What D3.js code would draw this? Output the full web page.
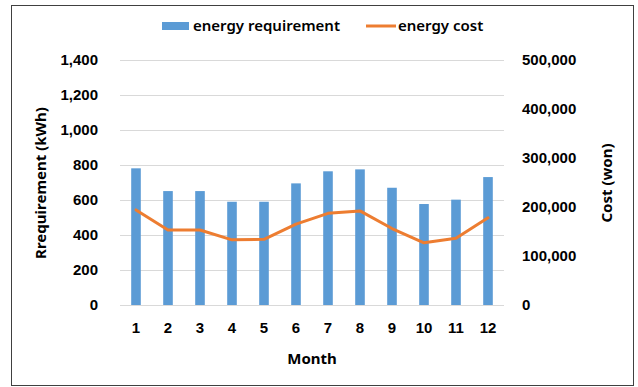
<!DOCTYPE html>
<html>
<head>
<meta charset="utf-8">
<script src="https://cdn.jsdelivr.net/npm/d3@7"></script>
<style>
  html, body { margin: 0; padding: 0; background: #fff; }
  svg { display: block; font-family: "Noto Sans", "Open Sans", sans-serif; }
</style>
</head>
<body>
<svg id="chart" width="638" height="387"></svg>
<script>
// Monthly energy requirement (kWh) and energy cost (won)
const months = ["1", "2", "3", "4", "5", "6", "7", "8", "9", "10", "11", "12"];
const requirement = [781, 651, 651, 590, 590, 695, 764, 775, 670, 577, 602, 731];
const cost = [194000, 153000, 153000, 133000, 134000, 165000, 187000, 192000, 156000, 127000, 136000, 178000];
const leftTicks = [0, 200, 400, 600, 800, 1000, 1200, 1400];
const rightTicks = [0, 100000, 200000, 300000, 400000, 500000];

const svg = d3.select("#chart");
const plot = { left: 120, right: 504, top: 60, bottom: 305 };
const FS = 15;

// outer frame
svg.append("rect")
  .attr("x", 11.5).attr("y", 5.5)
  .attr("width", 622).attr("height", 380)
  .attr("fill", "#fff").attr("stroke", "#404040").attr("stroke-width", 1);

const x = d3.scaleBand().domain(months).range([plot.left, plot.right]).paddingInner(0).paddingOuter(0);
const yL = d3.scaleLinear().domain([0, 1400]).range([plot.bottom, plot.top]);
const yR = d3.scaleLinear().domain([0, 500000]).range([plot.bottom, plot.top]);

const fmt = d3.format(",");

// gridlines
svg.append("g")
  .selectAll("line").data(leftTicks).join("line")
  .attr("x1", plot.left).attr("x2", plot.right)
  .attr("y1", d => Math.round(yL(d)) + 0.5).attr("y2", d => Math.round(yL(d)) + 0.5)
  .attr("stroke", "#d9d9d9").attr("stroke-width", 1);

// left axis labels
const axL = svg.append("g").attr("transform", `translate(${plot.left - 22},0)`)
  .call(d3.axisLeft(yL).tickValues(leftTicks).tickFormat(fmt).tickSize(0).tickPadding(0));
axL.select(".domain").remove();
axL.selectAll("text").attr("font-size", FS).attr("font-weight", 600).attr("fill", "#000");

// right axis labels
const axR = svg.append("g").attr("transform", `translate(${plot.right + 18},0)`)
  .call(d3.axisRight(yR).tickValues(rightTicks).tickFormat(fmt).tickSize(0).tickPadding(0));
axR.select(".domain").remove();
axR.selectAll("text").attr("font-size", FS).attr("font-weight", 600).attr("fill", "#000");

// bars
const barW = x.bandwidth() * 0.3;
svg.append("g").selectAll("rect").data(requirement).join("rect")
  .attr("x", (d, i) => x(months[i]) + (x.bandwidth() - barW) / 2)
  .attr("y", d => yL(d))
  .attr("width", barW)
  .attr("height", d => yL(0) - yL(d))
  .attr("fill", "#5b9bd5");

// cost line
const line = d3.line()
  .x((d, i) => x(months[i]) + x.bandwidth() / 2)
  .y(d => yR(d));
svg.append("path").datum(cost)
  .attr("d", line)
  .attr("fill", "none").attr("stroke", "#ed7d31")
  .attr("stroke-width", 3).attr("stroke-linejoin", "round").attr("stroke-linecap", "round");

// month labels
const axB = svg.append("g").attr("transform", `translate(0,${plot.bottom + 17})`)
  .call(d3.axisBottom(x).tickSize(0).tickPadding(0));
axB.select(".domain").remove();
axB.selectAll("text").attr("font-size", FS).attr("font-weight", 600).attr("fill", "#000");

// axis titles
svg.append("text")
  .attr("x", (plot.left + plot.right) / 2).attr("y", 364)
  .attr("text-anchor", "middle").attr("font-size", FS).attr("font-weight", 700)
  .text("Month");

svg.append("text")
  .attr("transform", "translate(46,183) rotate(-90)")
  .attr("text-anchor", "middle").attr("font-size", FS).attr("font-weight", 700)
  .text("Rrequirement (kWh)");

svg.append("text")
  .attr("transform", "translate(612,183) rotate(-90)")
  .attr("text-anchor", "middle").attr("font-size", FS).attr("font-weight", 700)
  .text("Cost (won)");

// legend
const lg = svg.append("g");
lg.append("rect").attr("x", 162).attr("y", 22).attr("width", 27).attr("height", 8).attr("fill", "#5b9bd5");
lg.append("text").attr("x", 193).attr("y", 31).attr("font-size", FS).attr("font-weight", 600).text("energy requirement");
lg.append("line").attr("x1", 366).attr("x2", 396).attr("y1", 26).attr("y2", 26)
  .attr("stroke", "#ed7d31").attr("stroke-width", 3);
lg.append("text").attr("x", 398).attr("y", 31).attr("font-size", FS).attr("font-weight", 600).text("energy cost");
</script>
</body>
</html>
